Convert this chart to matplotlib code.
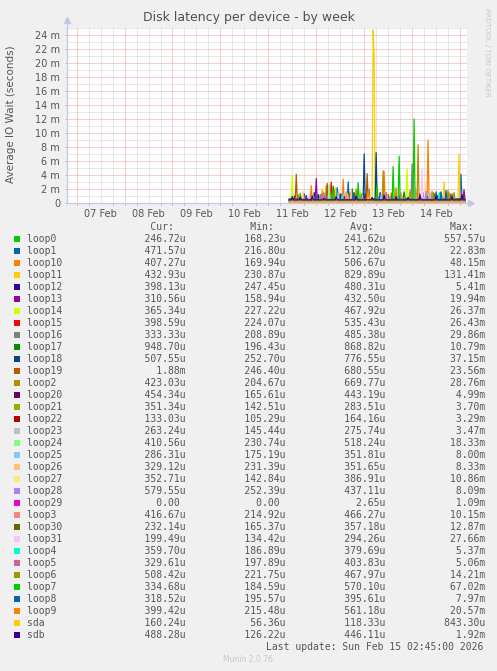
import numpy as np
import matplotlib
matplotlib.use("Agg")
import matplotlib.pyplot as plt
from matplotlib.patches import Rectangle

W, H = 497, 671

names = ["loop0", "loop1", "loop10", "loop11", "loop12", "loop13", "loop14", "loop15",
         "loop16", "loop17", "loop18", "loop19", "loop2", "loop20", "loop21", "loop22",
         "loop23", "loop24", "loop25", "loop26", "loop27", "loop28", "loop29", "loop3",
         "loop30", "loop31", "loop4", "loop5", "loop6", "loop7", "loop8", "loop9",
         "sda", "sdb"]

# legend figures, in microseconds
cur_us = [246.72, 471.57, 407.27, 432.93, 398.13, 310.56, 365.34, 398.59,
          333.33, 948.70, 507.55, 1880.0, 423.03, 454.34, 351.34, 133.03,
          263.24, 410.56, 286.31, 329.12, 352.71, 579.55, 0.0, 416.67,
          232.14, 199.49, 359.70, 329.61, 508.42, 334.68, 318.52, 399.42,
          160.24, 488.28]
min_us = [168.23, 216.80, 169.94, 230.87, 247.45, 158.94, 227.22, 224.07,
          208.89, 196.43, 252.70, 246.40, 204.67, 165.61, 142.51, 105.29,
          145.44, 230.74, 175.19, 231.39, 142.84, 252.39, 0.0, 214.92,
          165.37, 134.42, 186.89, 197.89, 221.75, 184.59, 195.57, 215.48,
          56.36, 126.22]
avg_us = [241.62, 512.20, 506.67, 829.89, 480.31, 432.50, 467.92, 535.43,
          485.38, 868.82, 776.55, 680.55, 669.77, 443.19, 283.51, 164.16,
          275.74, 518.24, 351.81, 351.65, 386.91, 437.11, 2.65, 466.27,
          357.18, 294.26, 379.69, 403.83, 467.97, 570.10, 395.61, 561.18,
          118.33, 446.11]
max_us = [557.57, 22830, 48150, 131410, 5410, 19940, 26370, 26430,
          29860, 10790, 37150, 23560, 28760, 4990, 3700, 3290,
          3470, 18330, 8000, 8330, 10860, 8090, 1090, 10150,
          12870, 27660, 5370, 5060, 14210, 67020, 7970, 20570,
          843.30, 1920]

colors = ["#00CC00", "#0066B3", "#FF8000", "#FFCC00", "#330099", "#990099", "#CCFF00",
          "#FF0000", "#808080", "#008F00", "#00487D", "#B35A00", "#B38F00", "#6B006B",
          "#8FB300", "#B30000", "#BEBEBE", "#80FF80", "#80C9FF", "#FFC080", "#FFE680",
          "#AA80FF", "#EE00CC", "#FF8080", "#666600", "#FFBFFF", "#00FFCC", "#CC6699",
          "#999900", "#00CC00", "#0066B3", "#FF8000", "#FFCC00", "#330099"]

# plotted series: quiet level (ms) and peaks (hours after 11 Feb 00:00, ms)
base_ms = [0.24, 0.45, 0.40, 0.45, 0.45, 0.35, 0.40, 0.40,
           0.35, 0.60, 0.50, 0.45, 0.45, 0.40, 0.28, 0.16,
           0.27, 0.40, 0.30, 0.30, 0.30, 0.40, 0.0, 0.35,
           0.30, 0.25, 0.33, 0.35, 0.40, 0.35, 0.35, 0.40,
           0.12, 0.45]
peaks = {
    "loop0": [(20, 0.55), (45, 0.5), (70, 0.52), (31, 0.5), (88, 0.54)],
    "loop1": [(40, 3.0), (34.5, 2.2), (96.5, 4.1), (84, 1.6), (60, 1.2), (19, 1.1),
              (47.5, 1.4), (91, 1.3)],
    "loop10": [(37.5, 3.4), (80, 9.0), (29, 2.5), (58, 4.5), (90.5, 1.5), (15, 1.2),
               (66, 1.3), (74.5, 1.8)],
    "loop11": [(52.5, 24.7), (53, 21.0), (88, 3.0), (95.5, 7.0), (27, 2.0), (35.5, 1.6),
               (61.5, 1.5)],
    "loop12": [(13, 1.0), (25, 1.2), (48.5, 1.3), (66, 1.0), (85, 1.1), (38.5, 0.9),
               (57, 1.0), (79.5, 0.9)],
    "loop13": [(24, 3.5), (98, 1.9), (56, 1.5), (44.5, 1.2)],
    "loop14": [(12, 4.0), (69.5, 4.9), (33.5, 2.2), (51, 1.5)],
    "loop15": [(31.5, 3.0), (62, 1.4), (49, 1.2)],
    "loop16": [(72, 5.6), (50.5, 2.0), (26, 1.1)],
    "loop17": [(32.5, 2.4), (42, 2.0), (68, 1.6), (86, 1.5), (21, 1.1), (57.5, 1.3)],
    "loop18": [(48, 7.0), (54, 7.2), (23, 1.5), (78, 1.5), (36.5, 1.3)],
    "loop19": [(14, 4.1), (49.5, 4.2), (29.5, 2.8), (83, 1.4), (41, 1.5)],
    "loop2": [(57.5, 4.6), (75, 8.3), (44, 2.0), (90, 1.8), (27.5, 1.6)],
    "loop20": [(18, 1.3), (36, 1.2), (76, 1.3)],
    "loop21": [(26, 1.2), (61, 1.0)],
    "loop22": [(38, 0.9)],
    "loop23": [(47, 1.2), (87, 1.0)],
    "loop24": [(30.5, 2.6), (63.5, 2.0), (46, 1.7), (39.5, 1.4)],
    "loop25": [(35, 1.6), (81, 1.5), (56.5, 1.2)],
    "loop26": [(17.5, 1.6), (41.5, 1.8), (73.5, 2.2), (59.5, 1.3)],
    "loop27": [(51.5, 2.2), (78.5, 3.0)],
    "loop28": [(28, 1.4), (79, 1.7)],
    "loop29": [(55, 0.3)],
    "loop3": [(39, 1.6), (66.5, 1.5), (22.5, 1.0)],
    "loop30": [(43, 1.5), (92, 1.3)],
    "loop31": [(77, 4.9), (20.5, 1.2)],
    "loop4": [(37, 1.2), (85.5, 1.4)],
    "loop5": [(26.5, 1.3), (59, 1.5)],
    "loop6": [(33, 2.0), (71, 1.8), (93, 1.5), (46.5, 1.3)],
    "loop7": [(45, 2.9), (62.5, 5.2), (65.5, 6.7), (73, 12.0), (16, 1.4), (54.5, 2.4),
              (32, 1.6), (82.5, 1.5)],
    "loop8": [(89, 1.8), (86.5, 1.6), (42.5, 1.4), (24.5, 1.0)],
    "loop9": [(21.5, 2.5), (64, 2.2), (82, 1.7), (50, 1.6)],
    "sda": [(50, 0.8)],
    "sdb": [(12, 0.9), (16, 0.8), (22, 1.0), (28, 0.7), (34, 0.9), (44, 1.0), (52, 0.8),
            (58, 1.1), (64, 0.9), (70, 0.8), (76, 1.0), (84, 0.9), (92, 0.8), (97, 1.2)],
}

day_labels = ["07 Feb", "08 Feb", "09 Feb", "10 Feb", "11 Feb", "12 Feb", "13 Feb", "14 Feb"]

hours = np.arange(10.5, 98.51, 0.5)
x_lo, x_hi = -100.83, 99.5
y_top = 25

txt = "#555555"
fig = plt.figure(figsize=(W / 100, H / 100), dpi=100, facecolor="#F0F0F0")
ax = fig.add_axes([67 / W, 1 - 203 / H, 400 / W, 175 / H], facecolor="white")
ax.set_xlim(x_lo, x_hi)
ax.set_ylim(0, y_top)

# grid, rrdtool style
for h in np.arange(-96, 99, 6):
    major = h % 24 == 0
    ax.axvline(h, color="#E8A0A0" if major else "#D0D0D0", lw=0.72,
               ls=(0, (1, 1)), zorder=1 if major else 0)
for v in range(1, y_top + 1):
    major = v % 2 == 0
    ax.axhline(v, color="#E8A0A0" if major else "#D0D0D0", lw=0.72,
               ls=(0, (1, 1)), zorder=1 if major else 0)

for i, name in enumerate(names):
    y = np.full(len(hours), base_ms[i])
    for h, v in peaks[name]:
        k = np.argmin(np.abs(hours - h))
        y[k] = max(y[k], v)
    ax.plot(hours, y, color=colors[i], lw=0.9, zorder=2)

for s in ["top", "right"]:
    ax.spines[s].set_visible(False)
axis_c = "#C4C8E8"
ax.spines["left"].set_color(axis_c)
ax.spines["bottom"].set_color(axis_c)
ax.plot([x_lo, x_lo], [0, y_top * 1.03], color=axis_c, lw=0.8, clip_on=False, zorder=3)
ax.plot([x_lo], [y_top * 1.045], marker="^", ms=4, color=axis_c, clip_on=False, zorder=3)
ax.plot([x_lo, x_hi + 1.5], [0, 0], color=axis_c, lw=0.8, clip_on=False, zorder=3)
ax.plot([x_hi + 2.0], [0], marker=">", ms=4, color=axis_c, clip_on=False, zorder=3)

ax.set_yticks(range(0, y_top, 2))
ax.set_yticklabels(["0"] + [f"{v} m" for v in range(2, y_top, 2)])
ax.tick_params(axis="y", length=1.5, width=0.7, color="#E8A0A0", pad=3.5,
               labelsize=7, labelcolor=txt)
noon = [-96 + 12 + 24 * i for i in range(len(day_labels))]
ax.set_xticks(noon)
ax.set_xticklabels(day_labels)
ax.tick_params(axis="x", length=0, pad=4.5, labelsize=7, labelcolor=txt)
ax.set_xticks(np.arange(-96, 99, 6), minor=True)
ax.tick_params(axis="x", which="minor", length=1.5, width=0.7, color="#D0A0A0")

fig.text(248.5 / W, 1 - 18 / H, "Disk latency per device - by week", ha="center",
         va="center", fontsize=9, color="#505050")
fig.text(11 / W, 1 - 114 / H, "Average IO Wait (seconds)", rotation=90, ha="center",
         va="center", fontsize=7.5, color=txt)
fig.text(487 / W, 1 - 8 / H, "RRDTOOL / TOBI OETIKER", rotation=270, ha="center",
         va="top", fontsize=5, color="#C8C8C8")


def fmt(v):
    if v == 0:
        return "0.00 "
    if v < 1000:
        return f"{v:.2f}u"
    return f"{v / 1000:.2f}m"


mono = dict(family="DejaVu Sans Mono", fontsize=7, color=txt, va="center")
header = " " * 21 + "Cur:" + " " * 13 + "Min:" + " " * 13 + "Avg:" + " " * 13 + "Max:"
fig.text(27 / W, 1 - 227.5 / H, header, ha="left", **mono)
for i, name in enumerate(names):
    yc = 239.3 + 12 * i
    fig.patches.append(Rectangle((14 / W, 1 - (yc + 3) / H), 6 / W, 6 / H,
                                 transform=fig.transFigure, facecolor=colors[i],
                                 edgecolor="none"))
    row = f"{name:<20}{fmt(cur_us[i]):>7}{fmt(min_us[i]):>17}{fmt(avg_us[i]):>17}{fmt(max_us[i]):>17}"
    fig.text(27 / W, 1 - yc / H, row, ha="left", **mono)

fig.text(483 / W, 1 - 647.3 / H, "Last update: Sun Feb 15 02:45:00 2026", ha="right", **mono)
fig.text(248 / W, 1 - 660 / H, "Munin 2.0.76", ha="center", va="center",
         fontsize=5.5, color="#C8C8C8")

fig.savefig("out.png", dpi=100, facecolor=fig.get_facecolor())
